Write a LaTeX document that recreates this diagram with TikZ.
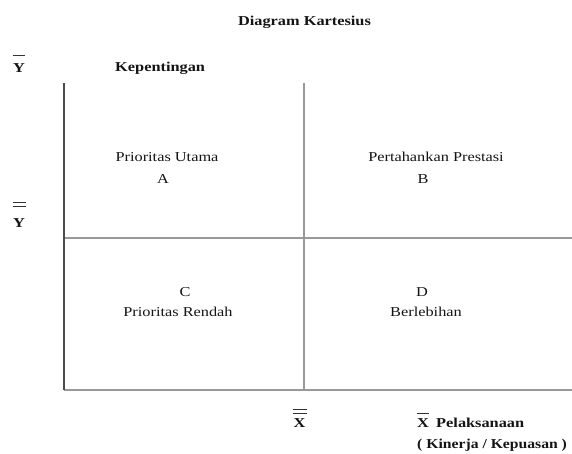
\documentclass[tikz,border=0pt]{standalone}
\usepackage{fontspec}
\setmainfont{Liberation Serif}
\begin{document}
\begin{tikzpicture}[x=1pt,y=-1pt,
  txt/.style={inner sep=0pt, xscale=1.2, text=black!92, font=\fontsize{13.6}{15}\selectfont},
  btxt/.style={txt, font=\fontsize{13.6}{15}\selectfont\bfseries},
  axisdark/.style={draw=black!70, line width=1.6pt},
  axislight/.style={draw=black!40, line width=1.3pt},
  barline/.style={draw=black!80, line width=1pt}]
\useasboundingbox (0,0) rectangle (572,453);
% frame coordinates
\coordinate (tl) at (64,83);
\coordinate (bl) at (64,390);
\coordinate (br) at (572,390);
\coordinate (mt) at (304,83);
\coordinate (mb) at (304,390);
\coordinate (ml) at (64,238);
\coordinate (mr) at (572,238);
\draw[axislight] (mt) -- (mb);
\draw[axislight] (ml) -- (mr);
\draw[axislight] (bl) -- (br);
\draw[axisdark] (tl) -- (bl);
% texts
\node[btxt] (title) at (304.5,22) {Diagram Kartesius};
\node[btxt] (ybar) at (19,68) {Y};
\draw[barline] (12.5,55.5) -- (25,55.5);
\node[btxt, anchor=west] (kep) at (115,68) {Kepentingan};
\node[btxt] (ydbar) at (19,223) {Y};
\draw[barline] (12.5,202.5) -- (26,202.5);
\draw[barline] (12.5,206) -- (26,206);
\node[txt] (pu) at (167,157) {Prioritas Utama};
\node[txt] (a) at (163,179) {A};
\node[txt] (pp) at (436,157) {Pertahankan Prestasi};
\node[txt] (b) at (423,179) {B};
\node[txt] (c) at (185,292) {C};
\node[txt] (pr) at (178,312) {Prioritas Rendah};
\node[txt] (d) at (422,292) {D};
\node[txt] (bl2) at (426,312) {Berlebihan};
\node[btxt] (xdbar) at (299.5,423) {X};
\draw[barline] (292.5,409.5) -- (306.5,409.5);
\draw[barline] (292.5,413.3) -- (306.5,413.3);
\node[btxt] (xbar) at (423,423) {X};
\draw[barline] (416.5,413.3) -- (429,413.3);
\node[btxt, anchor=west] (pel) at (436,423) {Pelaksanaan};
\node[btxt, anchor=west, xscale=0.96] (kin) at (417,445) {( Kinerja / Kepuasan )};
\end{tikzpicture}
\end{document}
